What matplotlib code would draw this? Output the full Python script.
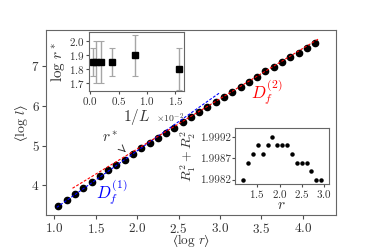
import numpy as np
import matplotlib
matplotlib.use('Agg')
import matplotlib.pyplot as plt

plt.rcParams['font.family'] = 'serif'
plt.rcParams['font.serif'] = ['cmr10']
plt.rcParams['mathtext.fontset'] = 'cm'
plt.rcParams['axes.formatter.use_mathtext'] = True

# main data: <log r> vs <log l>
log_r = np.arange(1.05, 4.16, 0.1)
log_l = [3.48, 3.64, 3.79, 3.93, 4.09, 4.23, 4.38, 4.51, 4.65, 4.79, 4.93,
         5.06, 5.20, 5.32, 5.45, 5.58, 5.72, 5.84, 5.97, 6.09, 6.21, 6.35,
         6.48, 6.60, 6.73, 6.86, 6.98, 7.10, 7.22, 7.33, 7.45, 7.57]

# fits (slope, intercept, x range)
D1, c1, x1 = 1.46, 3.48 - 1.46*1.05, (1.03, 3.0)
D2, c2, x2 = 1.26, 3.93 - 1.26*1.22, (1.22, 4.2)

# inset 1: log r* vs 1/L
L = np.array([2048, 1024, 512, 256, 128, 64])
log_rstar = [1.85, 1.85, 1.85, 1.85, 1.90, 1.80]
rstar_err = [0.10, 0.15, 0.15, 0.10, 0.15, 0.15]

# inset 2: R1^2 + R2^2 vs r
r_vals = [1.18, 1.29, 1.40, 1.51, 1.62, 1.73, 1.84, 1.95, 2.06, 2.17,
          2.28, 2.39, 2.50, 2.61, 2.71, 2.82, 2.93]
R_sum = [1.9982, 1.9986, 1.9988, 1.9990, 1.9988, 1.9990, 1.9992, 1.9990,
         1.9990, 1.9990, 1.9988, 1.9986, 1.9986, 1.9986, 1.9984, 1.9982, 1.9982]

fig = plt.figure(figsize=(3.74, 2.49), dpi=100)
ax = fig.add_axes([0.123, 0.135, 0.775, 0.745])
ax.plot(log_r, log_l, 'o', color='black', ms=4.5, zorder=2)
xa = np.linspace(*x1, 50)
ax.plot(xa, D1*xa + c1, color='blue', ls=(0, (2.5, 1.5)), lw=0.8, zorder=3)
xb = np.linspace(*x2, 50)
ax.plot(xb, D2*xb + c2, color='red', ls=(0, (2.5, 1.5)), lw=0.8, zorder=3)
ax.set_xlim(0.9, 4.4)
ax.set_ylim(3.25, 7.9)
ax.set_xticks([1.0, 1.5, 2.0, 2.5, 3.0, 3.5, 4.0])
ax.set_yticks([4, 5, 6, 7])
ax.tick_params(labelsize=9.5, colors='0.3', labelcolor='0.2', length=3, pad=1.5)
for s in ax.spines.values():
    s.set_color('0.4')
ax.set_xlabel('$\u27e8\\log\\, r\u27e9$', fontsize=9.5, color='0.2', va='center')
ax.xaxis.set_label_coords(0.5, -0.135)
ax.set_ylabel('$\u27e8\\log\\, l\u27e9$', fontsize=10, color='0.2', va='center')
ax.yaxis.set_label_coords(-0.083, 0.5)
ax.annotate(r'$r^*$', xy=(1.86, 4.84), xytext=(1.67, 5.2), fontsize=11,
            color='0.2', ha='center', va='center',
            arrowprops=dict(arrowstyle='->', color='0.2', lw=0.7, shrinkA=4, shrinkB=2))
ax.text(1.70, 3.83, r'$D_f^{(1)}$', color='blue', fontsize=12, ha='center', va='center')
ax.text(3.57, 6.35, r'$D_f^{(2)}$', color='red', fontsize=12, ha='center', va='center')

# inset 1
a1 = fig.add_axes([0.238, 0.635, 0.254, 0.237])
a1.errorbar(1.0/L, log_rstar, yerr=rstar_err, fmt='s', color='black', ms=4,
            ecolor='0.65', elinewidth=1, capsize=2, capthick=0.8)
a1.set_xlim(-0.0002, 0.0165)
a1.set_ylim(1.64, 2.07)
a1.set_yticks([1.7, 1.8, 1.9, 2.0])
a1.set_xticks([0.0, 0.005, 0.01, 0.015])
a1.ticklabel_format(axis='x', style='sci', scilimits=(0, 0), useMathText=True)
a1.xaxis.get_offset_text().set_fontsize(7)
a1.tick_params(labelsize=8, colors='0.3', labelcolor='0.2', length=2, pad=1)
for s in a1.spines.values():
    s.set_color('0.4')
a1.set_xlabel(r'$1/L$', fontsize=11, labelpad=0, color='0.2')
a1.set_ylabel(r'$\log\, r^*$', fontsize=11, labelpad=1, color='0.2')

# inset 2
a2 = fig.add_axes([0.628, 0.262, 0.251, 0.222])
a2.plot(r_vals, R_sum, 'o', color='black', ms=2.2)
a2.set_xlim(1.0, 3.1)
a2.set_ylim(1.9981, 1.99940)
a2.set_xticks([1.5, 2.0, 2.5, 3.0])
a2.set_yticks([1.9982, 1.9987, 1.9992])
a2.yaxis.set_major_formatter(matplotlib.ticker.FormatStrFormatter('%.4f'))
a2.tick_params(labelsize=8, colors='0.3', labelcolor='0.2', length=2, pad=1)
for s in a2.spines.values():
    s.set_color('0.4')
a2.set_xlabel(r'$r$', fontsize=11, labelpad=-1, color='0.2')
a2.set_ylabel(r'$R_1^2+R_2^2$', fontsize=10, labelpad=1, color='0.2')

fig.savefig('out.png', dpi=100)
